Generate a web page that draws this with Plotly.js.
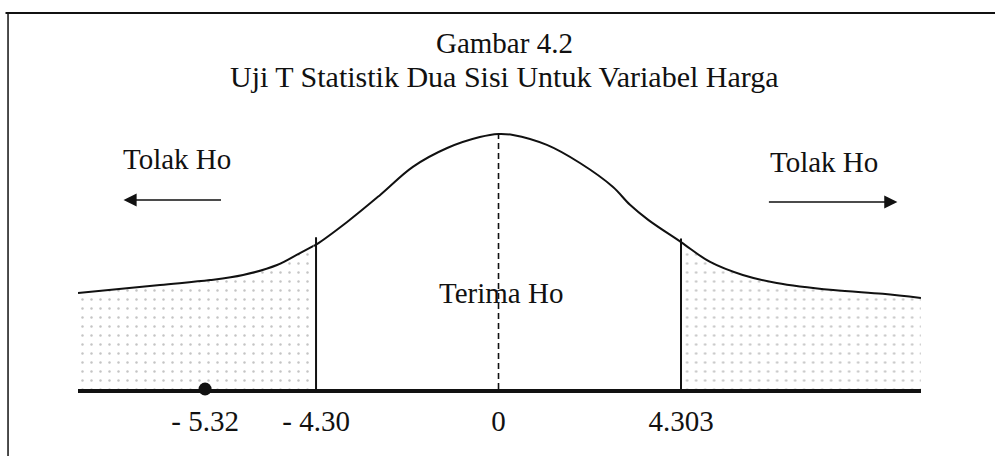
<!DOCTYPE html>
<html>
<head>
<meta charset="utf-8">
<script src="https://cdn.plot.ly/plotly-3.0.1.min.js"></script>
<style>
  html, body { margin: 0; padding: 0; background: #fff; }
  #chart { width: 995px; height: 456px; }
</style>
</head>
<body>
<div id="chart"></div>
<script>
// Two-tailed t test sketch. The horizontal axis is drawn in two segments:
// the outer left tail (around the test statistic) on a stretched scale,
// and the central region plus right tail on a second scale.

// Critical value (df = 2, two-sided) and the computed t statistic
const tCritical = 4.303;
const tStatistic = -5.32;

// Schematic curve heights (peak = 1) — outer left tail segment
const leftT = [-6.485, -5.733, -5.275, -4.972, -4.66, -4.45, -4.303];
const leftH = [0.376, 0.408, 0.427, 0.447, 0.486, 0.533, 0.566];

// Schematic curve heights — central region and right tail segment
const mainT = [-4.36, -4.303, -3.57, -2.79, -2.02, -1.21, -0.44, 0, 0.34, 1.14, 1.92, 2.7, 3.1, 3.53,
               4.303, 4.99, 5.76, 6.56, 7.89, 9.06, 9.96];
const mainH = [0.561, 0.566, 0.655, 0.761, 0.871, 0.945, 0.988, 1.0, 0.996, 0.957, 0.886, 0.792, 0.722, 0.663,
               0.576, 0.498, 0.447, 0.416, 0.388, 0.373, 0.357];

const criticalLineTop = [0.595, 0.59];   // heights of the left / right boundary lines

// Axis labels for each segment
const leftTickValues = [-5.32];
const leftTickLabels = ['- 5.32'];
const mainTickValues = [-4.30, 0, 4.303];
const mainTickLabels = ['- 4.30', '0', '4.303'];

const SERIF = '"Liberation Serif", "Times New Roman", serif';
const INK = '#111';

// Right rejection region of the curve
const rightTailT = [], rightTailH = [];
mainT.forEach((t, i) => { if (t >= tCritical) { rightTailT.push(t); rightTailH.push(mainH[i]); } });

const stipple = {
  shape: '.', bgcolor: 'rgba(255,255,255,0)', fgcolor: '#c4c4c4',
  size: 9, solidity: 0.06
};

const traces = [
  {
    x: leftT, y: leftH, xaxis: 'x', yaxis: 'y', mode: 'none', fill: 'tozeroy',
    line: { shape: 'spline' }, fillcolor: 'rgba(255,255,255,0)',
    fillpattern: stipple, hoverinfo: 'skip', showlegend: false
  },
  {
    x: rightTailT, y: rightTailH, xaxis: 'x2', yaxis: 'y', mode: 'none', fill: 'tozeroy',
    line: { shape: 'spline' }, fillcolor: 'rgba(255,255,255,0)',
    fillpattern: stipple, hoverinfo: 'skip', showlegend: false
  },
  {
    x: leftT, y: leftH, xaxis: 'x', yaxis: 'y', mode: 'lines',
    line: { color: INK, width: 2, shape: 'spline', smoothing: 1 },
    hoverinfo: 'skip', showlegend: false
  },
  {
    x: mainT, y: mainH, xaxis: 'x2', yaxis: 'y', mode: 'lines',
    line: { color: INK, width: 2, shape: 'spline', smoothing: 1 },
    hoverinfo: 'skip', showlegend: false
  },
  {
    // mean line
    x: [0, 0], y: [0, Math.max(...mainH)], xaxis: 'x2', yaxis: 'y', mode: 'lines',
    line: { color: INK, width: 1.6, dash: '6px,4px' },
    hoverinfo: 'skip', showlegend: false
  },
  {
    x: [-tCritical, -tCritical], y: [0, criticalLineTop[0]], xaxis: 'x2', yaxis: 'y',
    mode: 'lines', line: { color: INK, width: 2 }, hoverinfo: 'skip', showlegend: false
  },
  {
    x: [tCritical, tCritical], y: [0, criticalLineTop[1]], xaxis: 'x2', yaxis: 'y',
    mode: 'lines', line: { color: INK, width: 2 }, hoverinfo: 'skip', showlegend: false
  },
  {
    x: [tStatistic], y: [0], xaxis: 'x', yaxis: 'y', mode: 'markers', cliponaxis: false,
    marker: { color: INK, size: 13 }, hoverinfo: 'skip', showlegend: false
  }
];

const textFont = { family: SERIF, size: 29, color: INK };

const axisCommon = {
  fixedrange: true, showgrid: false, zeroline: false,
  showline: true, linecolor: INK, linewidth: 3.5,
  ticks: '', tickangle: 0, tickfont: textFont, ticklabelstandoff: 4,
  anchor: 'y'
};

// segment boundary sits just left of the lower critical value
const splitAt = 0.2795;

const layout = {
  width: 995, height: 456,
  margin: { l: 78, r: 74, t: 124, b: 67, pad: 0 },
  paper_bgcolor: '#fff', plot_bgcolor: '#fff',
  showlegend: false,
  xaxis: Object.assign({}, axisCommon, {
    domain: [0, splitAt], range: [-6.485, -4.325],
    tickvals: leftTickValues, ticktext: leftTickLabels
  }),
  xaxis2: Object.assign({}, axisCommon, {
    domain: [splitAt, 1], range: [-4.36, 9.962],
    tickvals: mainTickValues, ticktext: mainTickLabels
  }),
  yaxis: {
    range: [0, 1.039], fixedrange: true, visible: false
  },
  annotations: [
    { text: 'Gambar 4.2', xref: 'paper', yref: 'paper', x: 0.506, y: 1.306,
      xanchor: 'center', yanchor: 'middle', showarrow: false, font: textFont },
    { text: 'Uji T Statistik Dua Sisi Untuk Variabel Harga', xref: 'paper', yref: 'paper',
      x: 0.506, y: 1.181, xanchor: 'center', yanchor: 'middle', showarrow: false,
      font: Object.assign({}, textFont, { size: 30 }) },
    { text: 'Tolak Ho', xref: 'paper', yref: 'y', x: 0.117, y: 0.9,
      xanchor: 'center', yanchor: 'middle', showarrow: false, font: textFont },
    { text: 'Tolak Ho', xref: 'paper', yref: 'y', x: 0.885, y: 0.89,
      xanchor: 'center', yanchor: 'middle', showarrow: false, font: textFont },
    { text: 'Terima Ho', xref: 'x2', yref: 'y', x: 0.07, y: 0.377,
      xanchor: 'center', yanchor: 'middle', showarrow: false, font: textFont },
    // rejection-direction arrows
    { text: '', xref: 'paper', yref: 'y', axref: 'pixel', ayref: 'pixel',
      x: 0.054, y: 0.741, ax: 99, ay: 0,
      showarrow: true, arrowhead: 2, arrowsize: 1.75, arrowwidth: 1.5, arrowcolor: INK },
    { text: '', xref: 'paper', yref: 'y', axref: 'pixel', ayref: 'pixel',
      x: 0.972, y: 0.733, ax: -130, ay: 0,
      showarrow: true, arrowhead: 2, arrowsize: 1.75, arrowwidth: 1.5, arrowcolor: INK }
  ],
  shapes: [
    // page frame (top and left edges)
    { type: 'line', xref: 'paper', yref: 'paper', x0: -0.086, x1: 1.1, y0: 1.419, y1: 1.419,
      line: { color: INK, width: 2 } },
    { type: 'line', xref: 'paper', yref: 'paper', x0: -0.083, x1: -0.083, y0: 1.419, y1: -0.26,
      line: { color: INK, width: 1.5 } }
  ]
};

Plotly.newPlot('chart', traces, layout, { staticPlot: true, displayModeBar: false });
</script>
</body>
</html>
